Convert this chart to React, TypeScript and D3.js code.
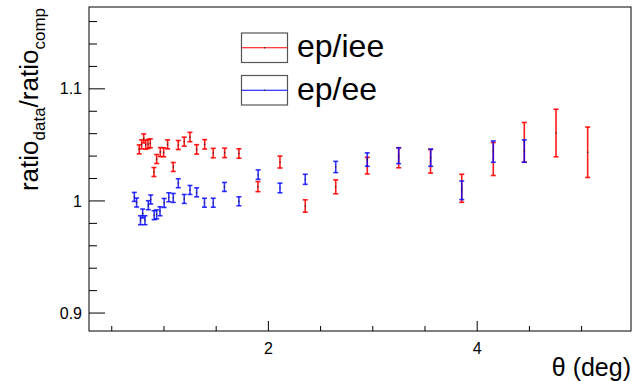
import React from 'react'
import * as d3 from 'd3'

// ep/iee (red) and ep/ee (blue) double ratio vs theta
const thetaIee = [0.763, 0.786, 0.806, 0.825, 0.847, 0.869, 0.904, 0.930, 0.965, 0.997, 1.035, 1.089, 1.137, 1.194, 1.249, 1.313, 1.390, 1.472, 1.581, 1.718, 1.900, 2.111, 2.353, 2.645, 2.947, 3.248, 3.553, 3.852, 4.154, 4.451, 4.755, 5.058]
const ratioIee = [1.046, 1.0505, 1.0558, 1.0502, 1.0508, 1.0514, 1.0258, 1.0374, 1.0436, 1.0434, 1.0505, 1.0303, 1.0499, 1.0529, 1.057, 1.046, 1.0505, 1.0427, 1.0429, 1.0423, 1.0128, 1.0347, 0.9955, 1.0126, 1.0315, 1.0385, 1.0354, 1.0113, 1.0374, 1.0523, 1.0606, 1.0434]
const errIee = [0.004, 0.004, 0.004, 0.004, 0.004, 0.004, 0.004, 0.004, 0.004, 0.004, 0.004, 0.004, 0.004, 0.004, 0.0042, 0.0042, 0.0042, 0.0042, 0.0042, 0.0042, 0.0045, 0.0053, 0.0055, 0.0062, 0.0074, 0.0089, 0.0105, 0.0125, 0.0147, 0.0177, 0.0212, 0.0225]

const thetaEe = [0.716, 0.738, 0.775, 0.796, 0.818, 0.850, 0.873, 0.906, 0.930, 0.962, 1.002, 1.046, 1.089, 1.137, 1.194, 1.249, 1.313, 1.388, 1.472, 1.579, 1.718, 1.902, 2.111, 2.353, 2.645, 2.947, 3.248, 3.555, 3.852, 4.154, 4.451]
const ratioEe = [1.0036, 0.9986, 0.9828, 0.9888, 0.9828, 0.9962, 1.0013, 0.9873, 0.988, 0.9908, 0.9982, 1.0033, 1.0027, 1.0158, 1.0018, 1.0098, 1.0077, 0.9984, 0.9984, 1.0125, 0.9997, 1.0235, 1.0116, 1.0193, 1.0303, 1.0369, 1.0404, 1.0386, 1.0095, 1.044, 1.0445]
const errEe = [0.004, 0.004, 0.004, 0.004, 0.004, 0.004, 0.004, 0.004, 0.004, 0.004, 0.004, 0.004, 0.004, 0.004, 0.004, 0.004, 0.004, 0.004, 0.004, 0.004, 0.004, 0.0042, 0.0043, 0.0045, 0.005, 0.006, 0.0071, 0.0077, 0.0083, 0.0095, 0.01]

const xMajor = [2, 4]
const xMinor = [0.5, 1, 1.5, 2.5, 3, 3.5, 4.5, 5]
const yMajor = [0.9, 1, 1.1]
const yMinor = [0.92, 0.94, 0.96, 0.98, 1.02, 1.04, 1.06, 1.08, 1.12, 1.14, 1.16]

const series = [
  { name: 'ep/iee', color: '#ff0000', x: thetaIee, y: ratioIee, e: errIee },
  { name: 'ep/ee', color: '#0000ff', x: thetaEe, y: ratioEe, e: errEe },
]

const W = 634, H = 381
const frame = { left: 89, right: 631, top: 7, bottom: 331 }
const font = '"Liberation Sans", Arial, Helvetica, sans-serif'

export default function App() {
  const x = d3.scaleLinear().domain([0.282, 5.473]).range([frame.left, frame.right])
  const y = d3.scaleLinear().domain([0.884, 1.173]).range([frame.bottom, frame.top])

  return (
    <svg width={W} height={H} style={{ position: 'absolute', left: 0, top: 0, background: '#fff' }} fontFamily={font}>
      <rect x={0} y={0} width={W} height={H} fill="#fff" />

      {/* data */}
      {series.map((s, si) => (
        <g key={s.name} stroke={s.color} strokeWidth={1.6} strokeOpacity={si === 1 ? 0.8 : 0.9}>
          {s.x.map((t, i) => {
            const cx = x(t)
            const y0 = y(s.y[i] - s.e[i])
            const y1 = y(s.y[i] + s.e[i])
            return (
              <g key={i}>
                <line x1={cx} x2={cx} y1={y0} y2={y1} />
                <line x1={cx - 2.5} x2={cx + 2.5} y1={y0} y2={y0} />
                <line x1={cx - 2.5} x2={cx + 2.5} y1={y1} y2={y1} />
                <rect x={cx - 0.6} y={y(s.y[i]) - 0.6} width={1.2} height={1.2} fill="#222" stroke="none" />
              </g>
            )
          })}
        </g>
      ))}

      {/* frame */}
      <rect x={frame.left} y={frame.top} width={frame.right - frame.left} height={frame.bottom - frame.top}
        fill="none" stroke="#000" strokeWidth={1} />

      {/* ticks */}
      <g stroke="#000" strokeWidth={1}>
        {xMajor.map(v => <line key={'xM' + v} x1={x(v)} x2={x(v)} y1={frame.bottom} y2={frame.bottom - 10} />)}
        {xMinor.map(v => <line key={'xm' + v} x1={x(v)} x2={x(v)} y1={frame.bottom} y2={frame.bottom - 5} />)}
        {yMajor.map(v => <line key={'yM' + v} x1={frame.left} x2={frame.left + 16} y1={y(v)} y2={y(v)} />)}
        {yMinor.map(v => <line key={'ym' + v} x1={frame.left} x2={frame.left + 8} y1={y(v)} y2={y(v)} />)}
      </g>
      {xMajor.map(v => (
        <text key={'xl' + v} x={x(v)} y={354} textAnchor="middle" fontSize={16}>{v}</text>
      ))}
      {yMajor.map(v => (
        <text key={'yl' + v} x={82} y={y(v)} dy="0.35em" textAnchor="end" fontSize={16}>{d3.format('')(v)}</text>
      ))}

      {/* axis titles */}
      <text x={631} y={376} textAnchor="end" fontSize={25}>θ (deg)</text>
      <text transform={`translate(38,${frame.top + 1}) rotate(-90)`} textAnchor="end" fontSize={26}>
        ratio<tspan fontSize={17} dy={7}>data</tspan><tspan dy={-7}>/ratio</tspan><tspan fontSize={17} dy={7}>comp</tspan>
      </text>

      {/* legend */}
      {series.map((s, i) => {
        const top = 33 + i * 42.5
        return (
          <g key={'lg' + s.name}>
            <rect x={241.5} y={top} width={46} height={29.5} fill="#fff" stroke="#555" strokeWidth={1.2} />
            <line x1={241.5} x2={287.5} y1={top + 14.75} y2={top + 14.75} stroke={s.color} strokeWidth={1.2} />
            <rect x={264} y={top + 14.2} width={1.2} height={1.2} fill="#222" />
            <text x={297} y={top + 24} fontSize={32}>{s.name}</text>
          </g>
        )
      })}
    </svg>
  )
}
